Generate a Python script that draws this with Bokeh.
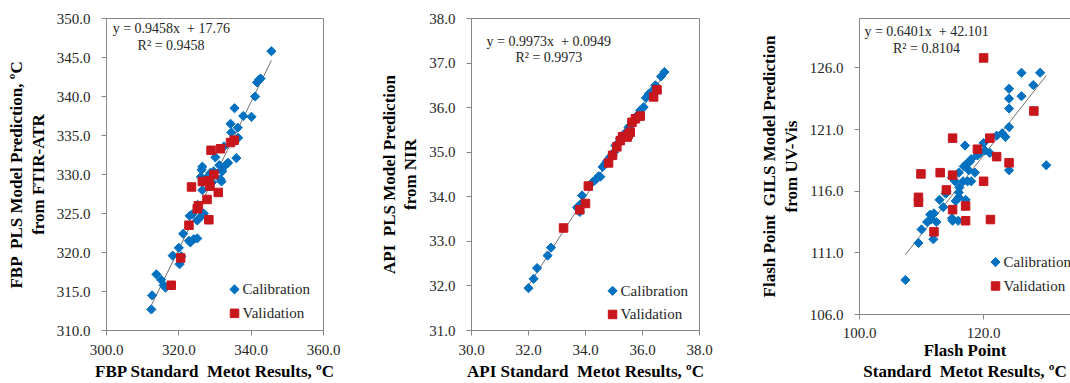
import math
from bokeh.plotting import figure
from bokeh.layouts import row
from bokeh.models import FixedTicker, PrintfTickFormatter, Label, LinearAxis
from bokeh.embed import file_html
from bokeh.resources import INLINE

# ---------------- data ----------------
# Panel 1: FBP (FTIR-ATR, PLS)
fbp_cal_x = [312.4, 312.6, 313.8, 315.1, 315.8, 316.3, 318.3, 320.0, 320.2, 320.7, 321.2, 322.8, 323.2, 324.1, 325.1,
             323.0, 323.7, 325.1, 325.2, 326.3, 326.9, 326.5, 326.1, 326.3, 326.5, 327.5, 328.7, 329.2, 329.6, 330.1,
             331.2, 331.5, 331.9, 332.0, 331.8, 332.5, 333.1, 333.6, 334.3, 334.5, 335.4, 336.3, 336.4, 335.9, 337.8,
             340.1, 341.1, 341.6, 342.1, 342.6, 345.6]
fbp_cal_y = [312.7, 314.5, 317.2, 316.5, 315.8, 315.5, 319.6, 320.6, 318.5, 319.5, 322.4, 321.5, 321.3, 321.7, 321.8,
             324.7, 324.9, 324.1, 326.1, 324.7, 325.0, 328.0, 329.7, 330.6, 331.0, 329.5, 330.2, 329.0, 330.4, 332.2,
             331.2, 329.4, 330.6, 330.4, 329.1, 333.6, 331.3, 331.5, 336.5, 335.4, 338.5, 336.0, 334.7, 332.1, 337.5,
             337.4, 340.0, 341.8, 342.1, 342.3, 345.8]
fbp_val_x = [317.9, 320.5, 322.8, 323.5, 325.1, 325.4, 326.5, 327.8, 328.3, 328.3, 328.9, 328.6, 329.7, 330.9, 331.5,
             334.3, 335.3]
fbp_val_y = [315.8, 319.3, 323.5, 328.4, 325.6, 326.0, 329.1, 326.8, 324.2, 329.2, 333.1, 328.5, 330.0, 327.7, 333.3,
             334.1, 334.4]
fbp_slope, fbp_intercept = 0.9458, 17.76
fbp_x_ticks = [300, 320, 340, 360]
fbp_y_ticks = [310, 315, 320, 325, 330, 335, 340, 345, 350]

# Panel 2: API (NIR, PLS)
api_cal_x = [32.00, 32.18, 32.30, 32.67, 32.79, 33.70, 33.80, 33.82, 33.88, 34.25, 34.35, 34.46, 34.52, 34.60, 34.70,
             34.75, 34.86, 34.95, 35.00, 35.05, 35.15, 35.22, 35.30, 35.42, 35.51, 35.60, 35.70, 35.85, 35.92, 36.04,
             36.12, 36.21, 36.33, 36.45, 36.65, 36.77]
api_cal_y = [31.95, 32.16, 32.40, 32.68, 32.86, 33.76, 33.66, 33.83, 34.03, 34.33, 34.38, 34.46, 34.45, 34.67, 34.74,
             34.80, 34.89, 34.93, 35.00, 35.15, 35.20, 35.30, 35.35, 35.45, 35.56, 35.62, 35.70, 35.85, 35.94, 36.01,
             36.22, 36.30, 36.37, 36.50, 36.70, 36.80]
api_val_x = [33.23, 33.80, 34.00, 34.10, 34.81, 34.95, 35.10, 35.22, 35.30, 35.46, 35.50, 35.57, 35.63, 35.75, 35.92,
             36.39, 36.51]
api_val_y = [33.30, 33.71, 33.85, 34.24, 34.76, 34.93, 35.12, 35.26, 35.35, 35.34, 35.40, 35.45, 35.67, 35.75, 35.81,
             36.24, 36.40]
api_slope, api_intercept = 0.9973, 0.0949
api_x_ticks = [30, 32, 34, 36, 38]
api_y_ticks = [31, 32, 33, 34, 35, 36, 37, 38]

# Panel 3: Flash point (UV-Vis, GILS)
fp_cal_x = [107.4, 109.5, 110.0, 111.9, 110.9, 111.5, 111.4, 112.0, 112.4, 112.9, 113.5, 113.9, 114.0, 114.9, 114.9,
            115.0, 115.5, 116.0, 116.0, 116.1, 116.0, 115.9, 115.4, 116.7, 117.1, 116.8, 117.0, 117.2, 117.4, 117.6,
            117.8, 118.0, 118.0, 118.6, 119.0, 119.4, 120.0, 120.2, 121.0, 122.1, 123.0, 123.5, 124.1, 124.1, 124.1,
            124.1, 124.1, 126.1, 126.1, 128.0, 129.1, 130.1]
fp_cal_y = [108.8, 111.8, 112.9, 112.1, 113.5, 113.7, 114.1, 114.2, 113.5, 115.3, 114.7, 115.8, 116.0, 117.1, 113.8,
            113.6, 115.2, 115.5, 115.9, 116.3, 117.5, 113.6, 116.8, 116.8, 115.3, 118.0, 119.7, 118.2, 116.8, 117.7,
            118.4, 118.6, 116.8, 117.5, 118.9, 119.1, 119.9, 119.3, 119.1, 120.5, 120.7, 120.4, 121.2, 122.7, 123.5,
            124.3, 117.7, 123.7, 125.6, 124.6, 125.6, 118.1]
fp_val_x = [120.0, 128.1, 115.0, 121.0, 119.0, 122.1, 124.1, 109.9, 113.0, 115.0, 114.0, 109.5, 109.5, 120.0, 115.0,
            117.1, 117.1, 121.1, 112.0]
fp_val_y = [126.8, 122.5, 120.3, 120.3, 119.4, 118.8, 118.3, 117.4, 117.5, 117.3, 116.1, 115.5, 115.1, 116.8, 114.5,
            114.8, 113.6, 113.7, 112.7]
fp_slope, fp_intercept = 0.6401, 42.101
fp_x_ticks = [100, 120, 140]
fp_y_ticks = [106, 111, 116, 121, 126]

series_names = ["Calibration", "Validation"]

# ---------------- style ----------------
FONT = "Liberation Serif"
BLUE = "#0070C0"
RED = "#C8161D"
AXIS_GRAY = "#868686"
TEXT_DARK = "#262626"
NB = "\u00a0"


def style_axis(ax, ticks, label, tick_standoff, label_standoff):
    ax.ticker = FixedTicker(ticks=ticks)
    ax.formatter = PrintfTickFormatter(format="%.1f")
    ax.axis_line_color = AXIS_GRAY
    ax.major_tick_line_color = AXIS_GRAY
    ax.major_tick_in = 0
    ax.major_tick_out = 5
    ax.minor_tick_line_color = None
    ax.major_label_text_font = FONT
    ax.major_label_text_font_size = "15px"
    ax.major_label_text_color = TEXT_DARK
    ax.major_label_standoff = tick_standoff
    ax.axis_label = label
    ax.axis_label_text_font = FONT
    ax.axis_label_text_font_size = "17px"
    ax.axis_label_text_font_style = "bold"
    ax.axis_label_text_color = "black"
    ax.axis_label_text_line_height = 1.12
    ax.axis_label_standoff = label_standoff


def panel(width, borders, xr, yr, xt, yt, xlabel, ylabel, cal_x, cal_y, val_x, val_y,
          slope, intercept, eq_pos, r2_pos, r2_text, leg, outline=True, xl_stand=(9, 4)):
    left, right, top, bottom = borders
    p = figure(width=width, height=383, x_range=xr, y_range=yr,
               min_border_left=left, min_border_right=right,
               min_border_top=top, min_border_bottom=bottom,
               output_backend="svg", toolbar_location=None)
    p.frame_align = False
    p.background_fill_color = "white"
    p.border_fill_color = "white"
    p.xgrid.visible = False
    p.ygrid.visible = False
    p.outline_line_color = AXIS_GRAY if outline else None
    style_axis(p.xaxis[0], xt, xlabel, xl_stand[0], xl_stand[1])
    style_axis(p.yaxis[0], yt, ylabel, 11, 6)

    # trendline over the calibration range
    x0, x1 = min(cal_x), max(cal_x)
    p.line([x0, x1], [slope * x0 + intercept, slope * x1 + intercept],
           line_color="#707070", line_width=1)

    p.scatter(cal_x, cal_y, marker="square", angle=math.pi / 4, size=6.5,
              fill_color=BLUE, line_color=BLUE)
    p.scatter(val_x, val_y, marker="square", size=8.5,
              fill_color=RED, line_color=RED)

    # legend (marker + label), placed in the lower right of the plot area
    lx, ly1, ly2, tx = leg
    p.scatter([lx], [ly1], marker="square", angle=math.pi / 4, size=6.5, fill_color=BLUE, line_color=BLUE)
    p.scatter([lx], [ly2], marker="square", size=8.5, fill_color=RED, line_color=RED)
    for yy, name in zip([ly1, ly2], series_names):
        p.add_layout(Label(x=tx, y=yy, text=name, text_font=FONT, text_font_size="15px",
                           text_color=TEXT_DARK, text_baseline="middle", text_align="left"))

    icpt = ("%g" % intercept) if intercept >= 1 else "%.4f" % intercept
    eq = "y = %.4fx %s+ %s" % (slope, NB, icpt)
    p.add_layout(Label(x=eq_pos[0], y=eq_pos[1], text=eq, text_font=FONT, text_font_size="14px",
                       text_color=TEXT_DARK, text_baseline="middle", text_align="left"))
    p.add_layout(Label(x=r2_pos[0], y=r2_pos[1], text=r2_text, text_font=FONT, text_font_size="14px",
                       text_color=TEXT_DARK, text_baseline="middle", text_align="left"))
    return p


p1 = panel(360, (106, 37, 18, 51), (300, 360), (310, 350), fbp_x_ticks, fbp_y_ticks,
           "FBP Standard " + NB + "Metot Results, ºC", "FBP " + NB + "PLS Model Prediction, ºC\nfrom FTIR-ATR",
           fbp_cal_x, fbp_cal_y, fbp_val_x, fbp_val_y, fbp_slope, fbp_intercept,
           (301.7, 348.73), (308.6, 346.56), "R² = 0.9458", (335.4, 315.27, 312.2, 337.6))

p2 = panel(360, (111, 21, 18, 52), (30, 38), (31, 38), api_x_ticks, api_y_ticks,
           "API Standard " + NB + "Metot Results, ºC", "API " + NB + "PLS Model Prediction\nfrom NIR",
           api_cal_x, api_cal_y, api_val_x, api_val_y, api_slope, api_intercept,
           (30.53, 37.49), (31.54, 37.12), "R² = 0.9973", (34.95, 31.89, 31.36, 35.23))

p3 = panel(350, (139, 0, 18, 67), (100, 134.0), (106, 130), fp_x_ticks, fp_y_ticks,
           "Flash Point\nStandard " + NB + "Metot Results, ºC",
           "Flash Point " + NB + "GILS Model Prediction\nfrom UV-Vis",
           fp_cal_x, fp_cal_y, fp_val_x, fp_val_y, fp_slope, fp_intercept,
           (100.8, 128.98), (105.4, 127.6), "R² = 0.8104", (121.92, 110.25, 108.31, 123.21),
           outline=False, xl_stand=(8, 0))

top_axis = LinearAxis(ticker=FixedTicker(ticks=[]), axis_line_color=AXIS_GRAY,
                      major_tick_line_color=None, minor_tick_line_color=None,
                      major_label_text_font_size="0px", major_label_standoff=0)
p3.add_layout(top_axis, "above")

layout = row(p1, p2, p3, spacing=0)
open("out.html", "w").write(file_html(layout, INLINE))
